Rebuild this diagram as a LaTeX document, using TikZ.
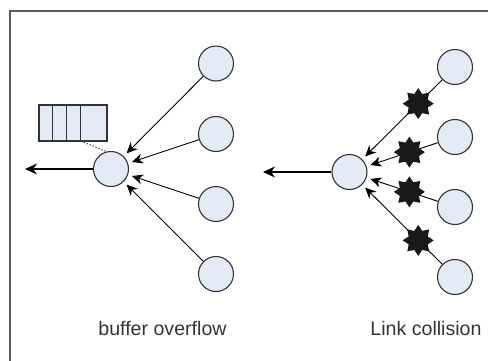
\documentclass[tikz,border=0pt]{standalone}
\usepackage{fontspec}
\setmainfont{Liberation Sans}
\usetikzlibrary{arrows.meta,shapes.geometric}
\definecolor{nodefill}{RGB}{228,235,246}
\tikzset{
	station/.style={circle,draw=black!80,fill=nodefill,line width=0.55pt,minimum size=17.5pt,inner sep=0pt},
	link/.style={-{Stealth[length=5.5pt,width=5pt]},line width=0.45pt,shorten >=2pt},
	outlink/.style={-{Stealth[length=6pt,width=5.5pt]},line width=0.6pt},
	collision/.style={star,star points=8,star point ratio=1.5,fill=black!90,minimum size=15.5pt,inner sep=0pt},
	caption/.style={font=\fontsize{9.8}{12}\selectfont,text=black!80},
}
\begin{document}
\begin{tikzpicture}[x=0.5pt,y=-0.5pt]
	\useasboundingbox (0,0) rectangle (488,360);
	\draw[line width=1pt,black!65] (9.5,362) -- (9.5,11) -- (490,11);
	% buffer overflow
	\node[station] (h1) at (111,169) {};
	\foreach \i/\y in {1/63.5,2/134,3/204,4/274}
		\node[station] (a\i) at (216,\y) {};
	\foreach \i in {1,...,4}
		\draw[link] (a\i) -- (h1);
	\coordinate (out1) at (25,169);
	\draw[outlink] (h1) -- (out1);
	\node[draw=black!80,fill=nodefill,line width=0.55pt,minimum width=34pt,minimum height=18pt,inner sep=0pt] (buf) at (73,123) {};
	\foreach \x in {52.7,66.7,80.7}
		\draw[black!80,line width=0.55pt] (\x,105) -- (\x,141);
	\coordinate (bufq) at (80.7,141);
	\draw[densely dotted,line width=0.6pt,black!70] (bufq) -- (h1.105);
	\node[caption] (cap1) at (162.5,328) {buffer overflow};
	% link collision
	\node[station] (h2) at (349.5,172) {};
	\foreach \i/\y in {1/67,2/137,3/207,4/277}
		\node[station] (b\i) at (455,\y) {};
	\foreach \i/\p in {1/0.3,2/0.4,3/0.4,4/0.3}
		\draw[link] (b\i) -- node[collision,pos=\p] (c\i) {} (h2);
	\coordinate (out2) at (263,172);
	\draw[outlink] (h2) -- (out2);
	\node[caption] (cap2) at (426,328) {Link collision};
\end{tikzpicture}
\end{document}
